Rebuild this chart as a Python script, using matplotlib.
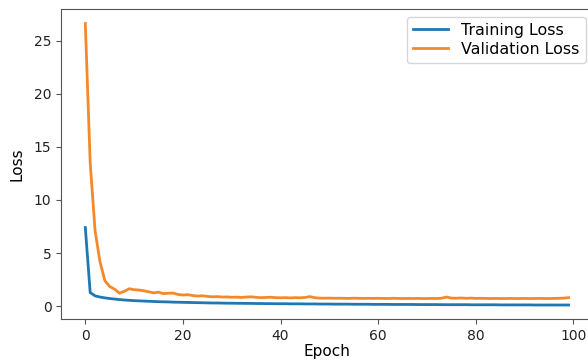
import matplotlib
matplotlib.use('Agg')
import matplotlib.pyplot as plt
import numpy as np

epochs = np.arange(100)

train_loss = [7.4, 1.28, 0.97, 0.86, 0.78, 0.72, 0.67, 0.62, 0.58, 0.55, 0.52,
              0.50, 0.48, 0.46, 0.44, 0.42, 0.41, 0.40, 0.38, 0.37, 0.36,
              0.35, 0.34, 0.33, 0.32, 0.31, 0.30, 0.30, 0.29, 0.28, 0.28,
              0.27, 0.27, 0.26, 0.26, 0.25, 0.25, 0.24, 0.24, 0.23, 0.23,
              0.23, 0.22, 0.22, 0.22, 0.21, 0.21, 0.21, 0.20, 0.20, 0.20,
              0.19, 0.19, 0.19, 0.19, 0.18, 0.18, 0.18, 0.18, 0.17, 0.17,
              0.17, 0.17, 0.16, 0.16, 0.16, 0.16, 0.16, 0.15, 0.15, 0.15,
              0.15, 0.15, 0.14, 0.14, 0.14, 0.14, 0.14, 0.14, 0.13, 0.13,
              0.13, 0.13, 0.13, 0.13, 0.12, 0.12, 0.12, 0.12, 0.12, 0.12,
              0.12, 0.11, 0.11, 0.11, 0.11, 0.11, 0.11, 0.11, 0.11]

val_loss = [26.6, 13.5, 7.1, 4.2, 2.4, 1.85, 1.6, 1.22, 1.4, 1.64, 1.55,
            1.52, 1.45, 1.35, 1.25, 1.32, 1.18, 1.22, 1.23, 1.1, 1.05,
            1.08, 1.0, 0.95, 0.98, 0.92, 0.88, 0.9, 0.86, 0.87, 0.84,
            0.85, 0.82, 0.86, 0.88, 0.83, 0.8, 0.82, 0.84, 0.8, 0.79,
            0.8, 0.78, 0.8, 0.79, 0.82, 0.9, 0.8, 0.76, 0.75, 0.76,
            0.74, 0.75, 0.74, 0.73, 0.75, 0.74, 0.73, 0.74, 0.73, 0.74,
            0.73, 0.72, 0.74, 0.73, 0.72, 0.73, 0.72, 0.73, 0.72, 0.72,
            0.73, 0.72, 0.75, 0.86, 0.76, 0.75, 0.77, 0.74, 0.76, 0.73,
            0.74, 0.73, 0.72, 0.73, 0.72, 0.72, 0.73, 0.72, 0.72, 0.73,
            0.72, 0.72, 0.73, 0.72, 0.72, 0.73, 0.74, 0.76, 0.8]

plt.rcParams['font.size'] = 10

fig = plt.figure(figsize=(5.88, 3.63), dpi=100)
# axes runs a little past the right edge, like the cropped original
ax = fig.add_axes([0.104, 0.121, 0.904, 0.853])
ax.plot(epochs, train_loss, color='#1f77b4', lw=2, label='Training Loss')
ax.plot(epochs, val_loss, color='#f5892a', lw=2, label='Validation Loss')
ax.set_xlabel('Epoch', fontsize=11, labelpad=1)
ax.set_ylabel('Loss', fontsize=11, labelpad=7)
ax.set_yticks([0, 5, 10, 15, 20, 25])
ax.legend(loc='upper right', fontsize=11.4, labelspacing=0.25,
          handlelength=2.2, borderaxespad=0.45)
for s in ax.spines.values():
    s.set_color('#555555')
ax.tick_params(color='#555555', labelcolor='#222222')
fig.savefig('out.png', dpi=100)
